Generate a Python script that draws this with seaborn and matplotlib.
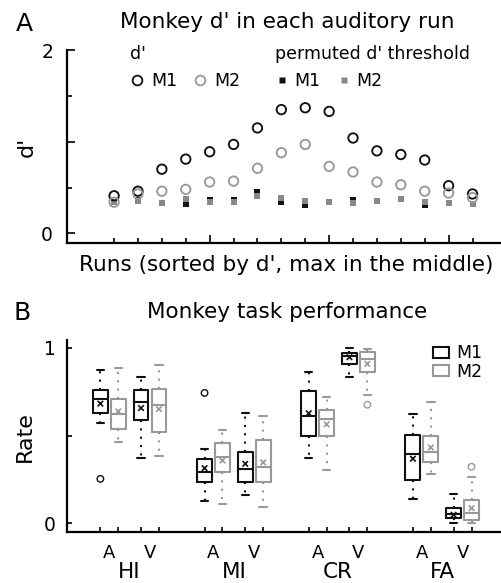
import numpy as np
import pandas as pd
import matplotlib
matplotlib.use("Agg")
import matplotlib.pyplot as plt
import matplotlib.transforms as mtransforms
from matplotlib.lines import Line2D
import seaborn as sns

# ---------------- data: panel A ----------------
runs = list(range(1, 17))
m1_dprime = [0.41, 0.46, 0.70, 0.81, 0.89, 0.97, 1.15, 1.35, 1.37, 1.33, 1.04, 0.90, 0.86, 0.80, 0.52, 0.43]
m2_dprime = [0.34, 0.43, 0.46, 0.48, 0.56, 0.57, 0.71, 0.88, 0.97, 0.73, 0.67, 0.56, 0.53, 0.46, 0.44, 0.39]
m1_thresh = [0.34, 0.36, 0.33, 0.32, 0.36, 0.36, 0.45, 0.34, 0.31, 0.34, 0.36, 0.35, 0.37, 0.31, 0.33, 0.32]
m2_thresh = [0.34, 0.35, 0.33, 0.37, 0.34, 0.34, 0.41, 0.39, 0.35, 0.34, 0.33, 0.35, 0.37, 0.34, 0.33, 0.32]

# ---------------- data: panel B ----------------
categories = ["HI", "MI", "CR", "FA"]
modalities = ["A", "V"]
monkeys = ["M1", "M2"]
# box order: HI-A, HI-V, MI-A, MI-V, CR-A, CR-V, FA-A, FA-V
m1_low = [0.571, 0.370, 0.126, 0.160, 0.370, 0.832, 0.137, 0.000]
m1_q1 = [0.629, 0.590, 0.236, 0.238, 0.495, 0.909, 0.244, 0.027]
m1_med = [0.709, 0.690, 0.295, 0.312, 0.610, 0.956, 0.394, 0.051]
m1_q3 = [0.762, 0.758, 0.366, 0.406, 0.752, 0.970, 0.503, 0.086]
m1_high = [0.876, 0.834, 0.423, 0.627, 0.861, 0.998, 0.625, 0.166]
m1_mean = [0.682, 0.657, 0.314, 0.339, 0.627, 0.947, 0.368, 0.048]

m2_low = [0.465, 0.385, 0.109, 0.091, 0.305, 0.733, 0.278, 0.000]
m2_q1 = [0.537, 0.520, 0.291, 0.234, 0.499, 0.865, 0.347, 0.019]
m2_med = [0.623, 0.676, 0.375, 0.322, 0.596, 0.935, 0.404, 0.061]
m2_q3 = [0.709, 0.766, 0.457, 0.474, 0.648, 0.977, 0.499, 0.133]
m2_high = [0.888, 0.905, 0.531, 0.613, 0.720, 0.996, 0.693, 0.263]
m2_mean = [0.638, 0.651, 0.358, 0.347, 0.564, 0.909, 0.432, 0.086]

# outliers: (box index, monkey, value)
outlier_box = [0, 2, 5, 7]
outlier_monkey = ["M1", "M1", "M2", "M2"]
outlier_value = [0.253, 0.743, 0.676, 0.322]

# ---------------- style ----------------
sns.set_theme(style="ticks")
plt.rcParams["font.family"] = ["DejaVu Sans"]
plt.rcParams["text.color"] = "black"
plt.rcParams["axes.labelcolor"] = "black"
plt.rcParams["xtick.color"] = "black"
plt.rcParams["ytick.color"] = "black"
c_m1 = "#111111"
c_m2 = "#999999"
c_sq2 = "#888888"

fig = plt.figure(figsize=(5.02, 5.83), dpi=100)
W, H = 502.0, 583.0

def fx(px):
    return px / W

def fy(py):
    return 1 - py / H

axA = fig.add_axes([fx(67), fy(243), fx(500) - fx(67), fy(50) - fy(243)])
axB = fig.add_axes([fx(67), fy(532), fx(500) - fx(67), fy(340) - fy(532)])

# ---------------- panel A ----------------
sns.scatterplot(x=runs, y=m1_thresh, marker="s", s=14, color=c_m1, linewidth=0, ax=axA)
sns.scatterplot(x=runs, y=m2_thresh, marker="s", s=14, color=c_sq2, linewidth=0, ax=axA)
sns.scatterplot(x=runs, y=m1_dprime, marker="o", s=46, color=c_m1, ax=axA)
axA.collections[-1].set_facecolor("none")
axA.collections[-1].set_edgecolor(c_m1)
axA.collections[-1].set_linewidth(1.35)
sns.scatterplot(x=runs, y=m2_dprime, marker="o", s=46, color=c_m2, ax=axA)
axA.collections[-1].set_facecolor("none")
axA.collections[-1].set_edgecolor(c_m2)
axA.collections[-1].set_linewidth(1.35)

axA.set_xlim(-0.97, 17.15)
axA.set_ylim(-0.105, 2)
axA.set_xticks([5, 10, 15])
axA.set_xticklabels([])
axA.set_xticks(runs, minor=True)
axA.set_yticks([0, 1, 2])
axA.set_yticklabels(["0", "", "2"])
axA.set_yticks([0.5, 1.5], minor=True)
axA.tick_params(axis="both", which="major", direction="in", length=5.8, width=1.2, labelsize=13.5, pad=10, color="black")
axA.tick_params(axis="both", which="minor", direction="in", length=3.6, width=1.2, color="black")
for side in ["top", "right"]:
    axA.spines[side].set_visible(False)
for side in ["left", "bottom"]:
    axA.spines[side].set_linewidth(1.6)
    axA.spines[side].set_color("black")
axA.set_xlabel("")
axA.set_ylabel("")

fig.text(fx(287), fy(22), "Monkey d' in each auditory run", ha="center", va="center", fontsize=15.5)
fig.text(fx(24), fy(24), "A", ha="center", va="center", fontsize=18)
fig.text(fx(27), fy(147), "d'", ha="center", va="center", fontsize=16, rotation=90)
fig.text(fx(286), fy(265), "Runs (sorted by d', max in the middle)", ha="center", va="center", fontsize=15.5)

h1 = [Line2D([], [], ls="", marker="o", ms=7, mfc="none", mec=c_m1, mew=1.3),
      Line2D([], [], ls="", marker="o", ms=7, mfc="none", mec=c_m2, mew=1.3)]
leg1 = fig.legend(h1, monkeys, title="d'", loc="upper left", bbox_to_anchor=(fx(130), fy(45)),
                  ncol=2, frameon=False, fontsize=12.5, title_fontsize=12.5, alignment="left",
                  handlelength=0.8, handletextpad=0.4, columnspacing=0.95, borderpad=0,
                  borderaxespad=0)
h2 = [Line2D([], [], ls="", marker="s", ms=3.8, mfc=c_m1, mec="none"),
      Line2D([], [], ls="", marker="s", ms=3.8, mfc=c_sq2, mec="none")]
leg2 = fig.legend(h2, monkeys, title="permuted d' threshold", loc="upper left",
                  bbox_to_anchor=(fx(275), fy(45)), ncol=2, frameon=False, fontsize=12.5,
                  title_fontsize=12.5, alignment="left", handlelength=0.8, handletextpad=0.3,
                  columnspacing=0.95, borderpad=0, borderaxespad=0)

# ---------------- panel B ----------------
cat_step = 2.56
box_width = 0.88
rows = []
centers = []
for ci, cat in enumerate(categories):
    for mi, mod in enumerate(modalities):
        centers.append(ci * cat_step + mi)
stats = {"M1": [m1_low, m1_q1, m1_med, m1_q3, m1_high],
         "M2": [m2_low, m2_q1, m2_med, m2_q3, m2_high]}
for b, pos in enumerate(centers):
    for mk in monkeys:
        for arr in stats[mk]:
            rows.append({"pos": pos, "rate": arr[b], "monkey": mk})
dfB = pd.DataFrame(rows)

sns.boxplot(data=dfB, x="pos", y="rate", hue="monkey", hue_order=monkeys,
            palette=[c_m1, c_m2], native_scale=True, dodge=True, width=box_width,
            gap=0.17, fill=False, linewidth=1.5, whis=(0, 100), showfliers=False,
            whiskerprops=dict(linestyle=(0, (1, 3))), ax=axB)

offsets = {"M1": -box_width / 4, "M2": box_width / 4}
mean_x, mean_y, mean_h = [], [], []
for b, pos in enumerate(centers):
    for mk, arr in zip(monkeys, [m1_mean, m2_mean]):
        mean_x.append(pos + offsets[mk])
        mean_y.append(arr[b])
        mean_h.append(mk)
sns.scatterplot(x=mean_x, y=mean_y, hue=mean_h, hue_order=monkeys, palette=[c_m1, c_m2],
                marker="x", s=16, linewidth=1.2, legend=False, ax=axB)

out_x = [centers[b] + offsets[mk] for b, mk in zip(outlier_box, outlier_monkey)]
sns.scatterplot(x=out_x, y=outlier_value, hue=outlier_monkey, hue_order=monkeys,
                palette=[c_m1, c_m2], marker="o", s=22, legend=False, ax=axB)
oc = axB.collections[-1]
oc.set_edgecolors([c_m1 if m == "M1" else c_m2 for m in outlier_monkey])
oc.set_facecolor("none")
oc.set_linewidth(1.0)

axB.set_xlim(-1.04, 9.6)
axB.set_ylim(-0.05, 1.045)
box_pos = [p + o for p in centers for o in (offsets["M1"], offsets["M2"])]
axB.set_xticks(centers)
axB.set_xticklabels(modalities * len(categories))
axB.set_xticks(box_pos, minor=True)
axB.tick_params(axis="x", which="major", length=0, labelsize=13, pad=9)
axB.tick_params(axis="x", which="minor", direction="in", length=3.6, width=1.2, color="black")
axB.set_yticks([0, 0.5, 1])
axB.set_yticklabels(["0", "", "1"])
axB.tick_params(axis="y", which="major", direction="in", length=3.6, width=1.2, labelsize=13.5, pad=8, color="black")
for side in ["top", "right"]:
    axB.spines[side].set_visible(False)
for side in ["left", "bottom"]:
    axB.spines[side].set_linewidth(1.6)
    axB.spines[side].set_color("black")
axB.set_xlabel("")
axB.set_ylabel("")

cat_trans = mtransforms.blended_transform_factory(axB.transData, fig.transFigure)
for ci, cat in enumerate(categories):
    axB.text(ci * cat_step + 0.5, fy(572), cat, transform=cat_trans,
             ha="center", va="center", fontsize=15.5)

sns.move_legend(axB, loc="upper right", bbox_to_anchor=(0.96, 0.978), frameon=False, title=None,
                fontsize=12.5, handlelength=0.9, handleheight=0.6, handletextpad=0.45,
                labelspacing=0.05, borderpad=0, borderaxespad=0)

fig.text(fx(287), fy(312), "Monkey task performance", ha="center", va="center", fontsize=15.5)
fig.text(fx(22), fy(313), "B", ha="center", va="center", fontsize=18)
fig.text(fx(25), fy(437), "Rate", ha="center", va="center", fontsize=16, rotation=90)

fig.savefig("out.png", dpi=100)
